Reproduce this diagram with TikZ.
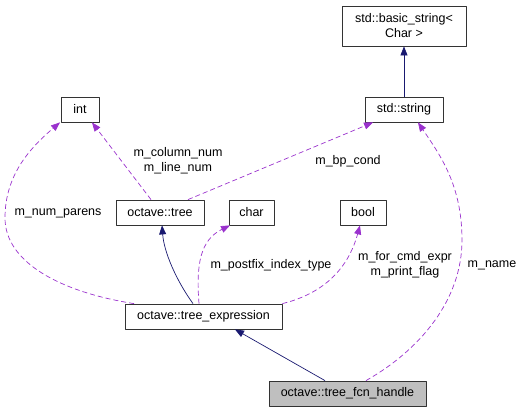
\documentclass[tikz,border=0pt]{standalone}
\usepackage{fontspec}
\setmainfont{Liberation Sans}
\usetikzlibrary{arrows.meta}
\definecolor{inh}{HTML}{191970}
\definecolor{usg}{HTML}{9A32CD}
\begin{document}
\begin{tikzpicture}
[x=1pt, y=-1pt, font=\fontsize{12.5}{15}\selectfont, line join=round,
 >={Triangle[length=9pt,width=7pt]},
 cls/.style={draw=black!80, line width=0.8pt, inner sep=0pt, minimum height=25pt, fill=white},
 base/.style={->, draw=inh, line width=0.7pt},
 uses/.style={->, draw=usg, line width=0.7pt, dash pattern=on 5pt off 3pt},
 lbl/.style={align=center, inner sep=0pt}]
\useasboundingbox (0,0) rectangle (531,412);
% classes
\node[cls, minimum width=124pt, minimum height=40pt, align=center] (bstr) at (404,26) {std::basic\_string<\\Char >};
\foreach \n/\x/\y/\w/\t in {int/80/109.5/38/int, str/404/109.5/78/std::string,
  tree/160/212.5/88/octave::tree, char/251.5/212.5/45/char, bool/363/212.5/46/bool,
  texpr/203.5/316.5/157/octave::tree\_expression}
\node[cls, minimum width=\w pt] (\n) at (\x,\y) {\t};
\node[cls, minimum width=157pt, fill=black!25] (fcn) at (347.5,393.5) {octave::tree\_fcn\_handle};
% inheritance
\draw[base] (str) -- (bstr);
\draw[base] (texpr.north -| 193,0) .. controls (176,280) and (164,252) .. (tree.south -| 162,0);
\draw[base] (fcn.north -| 325,0) -- (texpr.south -| 235,0);
% members
\draw[uses] (tree.north -| 151,0) -- (int.south -| 92,0);
\draw[uses] (texpr.north -| 134,0) .. controls (60,292) and (5,262) .. (5,218)
  .. controls (5,175) and (30,148) .. (int.south -| 60,0);
\draw[uses] (tree.north -| 188,0) -- (str.south -| 373,0);
\draw[uses] (fcn.north -| 366,0) .. controls (420,350) and (462,300) .. (462,240)
  .. controls (462,185) and (440,155) .. (str.south -| 418,0);
\draw[uses] (texpr.north -| 199,0) .. controls (196,265) and (200,240) .. (char.south -| 230,0);
\draw[uses] (texpr.north east) .. controls (330,292) and (350,262) .. (bool.south -| 360,0);
% labels
\node[lbl] (l1) at (178,161) {m\_column\_num\\m\_line\_num};
\node[lbl] (l2) at (348,161) {m\_bp\_cond};
\node[lbl] (l3) at (58,213) {m\_num\_parens};
\node[lbl] (l4) at (271,265) {m\_postfix\_index\_type};
\node[lbl] (l5) at (405,265) {m\_for\_cmd\_expr\\m\_print\_flag};
\node[lbl] (l6) at (492,265) {m\_name};
\end{tikzpicture}
\end{document}
